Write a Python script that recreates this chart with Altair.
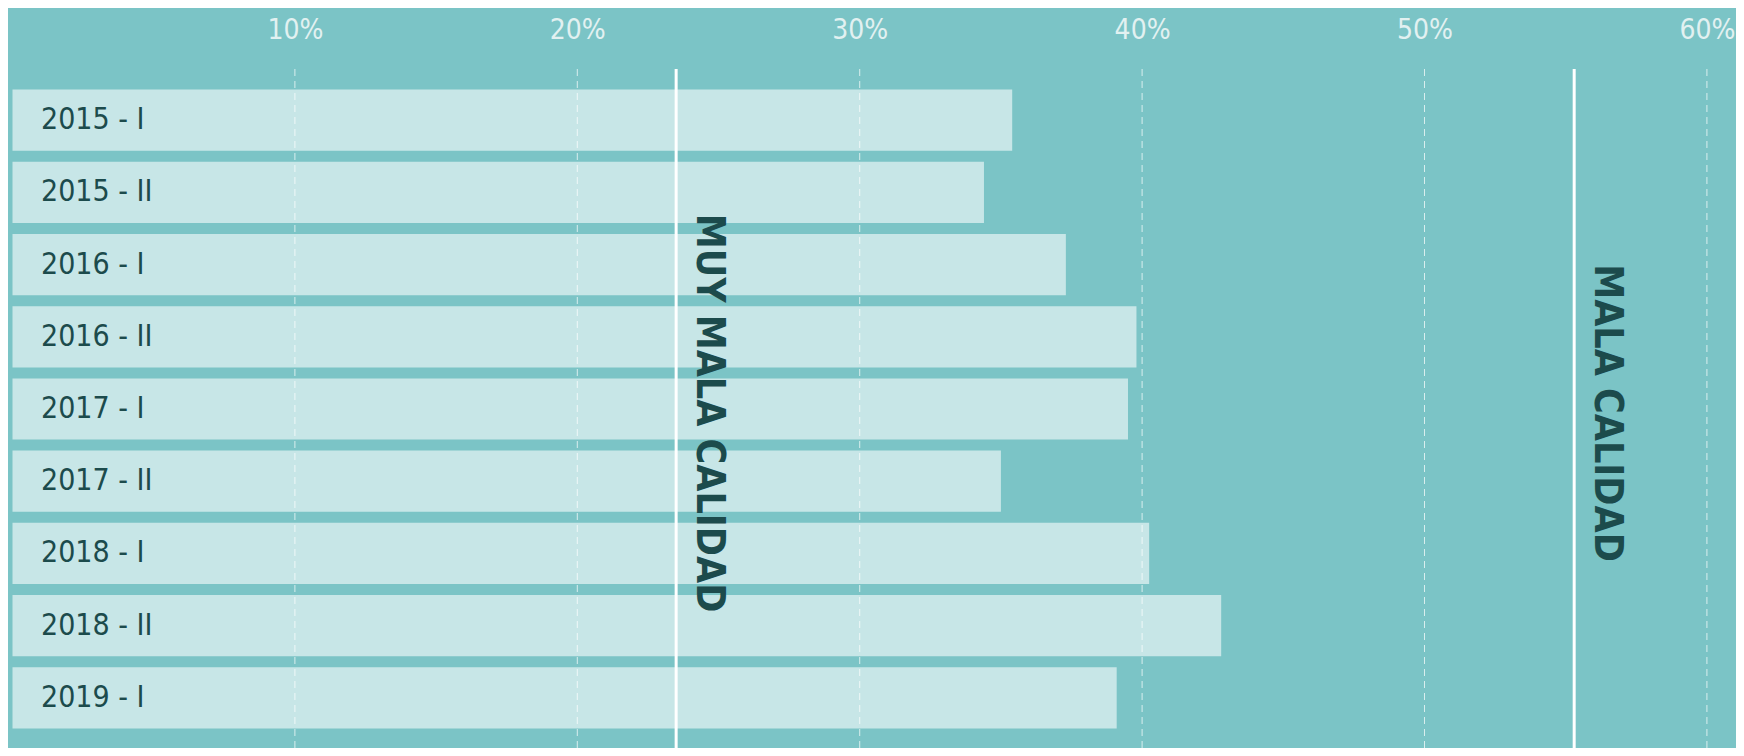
import altair as alt
import pandas as pd

periods = ["2015 - I", "2015 - II", "2016 - I", "2016 - II", "2017 - I",
           "2017 - II", "2018 - I", "2018 - II", "2019 - I"]
values = [35.4, 34.4, 37.3, 39.8, 39.5, 35.0, 40.25, 42.8, 39.1]
tick_values = [10, 20, 30, 40, 50, 60]
thresholds = [23.5, 55.3]
threshold_labels = ["MUY MALA CALIDAD", "MALA CALIDAD"]

FONT = "DejaVu Sans Condensed, DejaVu Sans, sans-serif"
BG = "#7bc4c6"
DARK = "#1c4b4c"

df = pd.DataFrame({"period": periods, "value": values})
grid_df = pd.DataFrame({"v": tick_values})
th_df = pd.DataFrame({"t": thresholds, "label": threshold_labels})

W, H = 1723.5, 686

xscale = alt.Scale(domain=[0, 61.03], nice=False, zero=False)
yscale = alt.Scale(domain=periods, paddingInner=0.152, paddingOuter=0.3267, align=0.585)

xaxis = alt.Axis(orient="top", values=tick_values, labelExpr="datum.value + '%'",
                 domain=False, ticks=False, tickSize=0, grid=False, title=None,
                 labelFont=FONT, labelFontSize=28, labelFontWeight=300,
                 labelColor="#e2f1f1",
                 labelPadding=32, labelBaseline="middle", labelFlush=False)

grid = alt.Chart(grid_df).mark_rule(color="#d9eeee", strokeDash=[7, 5], strokeWidth=1).encode(
    x=alt.X("v:Q", scale=xscale, axis=xaxis),
    y=alt.value(7), y2=alt.value(H),
)

bars = alt.Chart(df).mark_bar(color="white", opacity=0.58).encode(
    x=alt.X("value:Q", scale=xscale, axis=xaxis),
    y=alt.Y("period:N", sort=periods, scale=yscale, axis=None),
)

labels = alt.Chart(df).mark_text(align="left", baseline="middle", font=FONT,
                                  fontSize=30, color=DARK).encode(
    x=alt.value(28.5),
    y=alt.Y("period:N", sort=periods, scale=yscale, axis=None),
    text="period:N",
)

rules = alt.Chart(th_df).mark_rule(color="white", strokeWidth=3).encode(
    x=alt.X("t:Q", scale=xscale, axis=xaxis),
    y=alt.value(7), y2=alt.value(H),
)

ann = alt.Chart(th_df).mark_text(angle=90, align="center", baseline="alphabetic", dy=-21,
                                 font=FONT, fontSize=39, fontWeight="bold", color=DARK).encode(
    x=alt.X("t:Q", scale=xscale, axis=xaxis),
    y=alt.value(351),
    text="label:N",
)

chart = alt.layer(grid, bars, labels, rules, ann).properties(
    width=W, height=H,
    padding={"left": 4.5, "top": 54, "right": 0, "bottom": 0},
    autosize=alt.AutoSizeParams(type="none"),
    background=BG,
).configure_view(stroke=None)

chart.save("out.html", embed_options={"renderer": "svg", "actions": False})
